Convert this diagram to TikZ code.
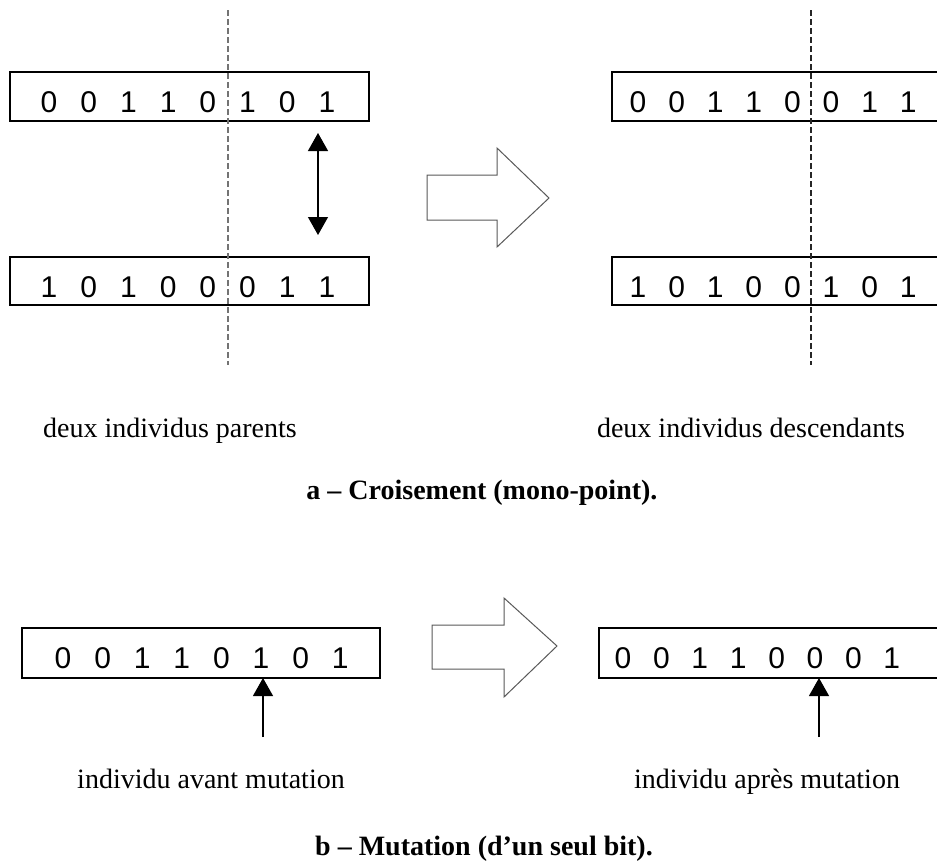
\documentclass[tikz,border=0pt]{standalone}
\usepackage{fontspec}
\setmainfont{Liberation Serif}
\newfontfamily\bitfamily{Liberation Sans}
\usetikzlibrary{arrows.meta}
\begin{document}
\begin{tikzpicture}[x=1pt,y=-1pt,
  bitbox/.style={draw=black, line width=1.3pt, minimum width=#1,
    minimum height=49pt, anchor=north west, inner sep=0pt, outer sep=0pt},
  bit/.style={anchor=base, inner sep=0pt,
    font=\bitfamily\fontsize{30}{34}\selectfont},
  lbl/.style={anchor=base, inner sep=0pt, font=\fontsize{28}{32}\selectfont},
  capt/.style={anchor=base, inner sep=0pt,
    font=\fontsize{28}{32}\selectfont\bfseries},
  cutline/.style={line width=1.4pt, dash pattern=on 6pt off 3pt},
  swaparrow/.style={line width=1.2pt,
    {Triangle[width=20pt,length=18pt]}-{Triangle[width=20pt,length=18pt]}},
  mutarrow/.style={line width=1.2pt, -{Triangle[width=20pt,length=18pt]}},
  blockarrow/.style={draw=black!65, line width=1pt, fill=white, line join=miter}
]
\useasboundingbox (0,0) rectangle (937,863);
\fill[white] (0,0) rectangle (937,863);
\clip (0,0) rectangle (937,863);

% ---------- a) crossover ----------
% parent chromosomes
\node[bitbox=359] (pa) at (10,72) {};
\node[bitbox=359, minimum height=48pt] (pb) at (10,257) {};
\foreach \d [count=\i] in {0,0,1,1,0,1,0,1}
  \node[bit] (pa-\i) at ({49+39.7*(\i-1)},112) {\d};
\foreach \d [count=\i] in {1,0,1,0,0,0,1,1}
  \node[bit] (pb-\i) at ({49+39.7*(\i-1)},297) {\d};

% crossing point
\coordinate (cutA1) at (228,10);
\coordinate (cutA2) at (228,365);
\draw[cutline, draw=black!55] (cutA1) -- (cutA2);

% exchange of the tails
\coordinate (swapT) at (318,133);
\coordinate (swapB) at (318,235);
\draw[swaparrow] (swapT) -- (swapB);

% transition arrow
\draw[blockarrow] (427,175) -- (497,175) -- (497,148) -- (549,198)
  -- (497,247) -- (497,220) -- (427,220) -- cycle;

% offspring chromosomes
\node[bitbox=400] (ca) at (612,72) {};
\node[bitbox=400, minimum height=48pt] (cb) at (612,257) {};
\foreach \d [count=\i] in {0,0,1,1,0,0,1,1}
  \node[bit] (ca-\i) at ({638+38.6*(\i-1)},112) {\d};
\foreach \d [count=\i] in {1,0,1,0,0,1,0,1}
  \node[bit] (cb-\i) at ({638+38.6*(\i-1)},297) {\d};

\coordinate (cutB1) at (811,10);
\coordinate (cutB2) at (811,365);
\draw[cutline, draw=black!85] (cutB1) -- (cutB2);

\node[lbl] (lblP) at (170,437) {deux individus parents};
\node[lbl] (lblD) at (751,437) {deux individus descendants};
\node[capt] (captA) at (482,499) {a -- Croisement (mono-point).};

% ---------- b) mutation ----------
\node[bitbox=358, minimum height=50pt] (ma) at (22,628) {};
\foreach \d [count=\i] in {0,0,1,1,0,1,0,1}
  \node[bit] (ma-\i) at ({63+39.6*(\i-1)},668) {\d};

\draw[blockarrow] (432,625) -- (504,625) -- (504,598) -- (557,646)
  -- (504,697) -- (504,669) -- (432,669) -- cycle;

\node[bitbox=400, minimum height=50pt] (mb) at (599,628) {};
\foreach \d [count=\i] in {0,0,1,1,0,0,0,1}
  \node[bit] (mb-\i) at ({623+38.4*(\i-1)},668) {\d};

% mutated position
\coordinate (mutA) at (263,737);
\coordinate (mutB) at (819,737);
\draw[mutarrow] (mutA) -- (mutA |- ma.south);
\draw[mutarrow] (mutB) -- (mutB |- mb.south);

\node[lbl] (lblAv) at (211,788) {individu avant mutation};
\node[lbl] (lblAp) at (767,788) {individu après mutation};
\node[capt] (captB) at (484,855) {b -- Mutation (d’un seul bit).};
\end{tikzpicture}
\end{document}
